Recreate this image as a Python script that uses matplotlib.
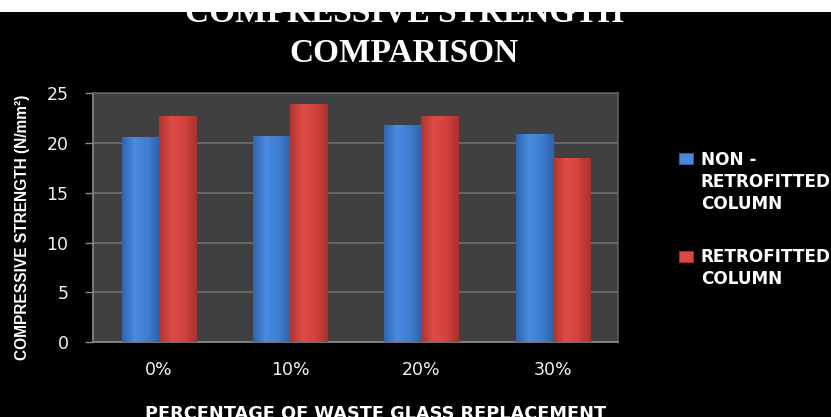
import matplotlib
matplotlib.use("Agg")
import matplotlib.pyplot as plt
from matplotlib import font_manager
from matplotlib.patches import Rectangle
from matplotlib.colors import LinearSegmentedColormap
import numpy as np

categories = ["0%", "10%", "20%", "30%"]
non_retrofitted = [20.6, 20.7, 21.8, 20.95]
retrofitted = [22.75, 23.9, 22.75, 18.45]
series_labels = ["NON -\nRETROFITTED\nCOLUMN", "RETROFITTED\nCOLUMN"]
yticks = [0, 5, 10, 15, 20, 25]
title_lines = ["COMPRESSIVE STRENGTH", "COMPARISON"]
ylabel = "COMPRESSIVE STRENGTH (N/mm\u00b2)"
xlabel = "PERCENTAGE OF WASTE GLASS REPLACEMENT"

W, H = 831, 417
BLUE, BLUE_E = "#3f7fd3", "#2c5d9c"
RED, RED_E = "#d2423e", "#9a2f2b"
blue_cmap = LinearSegmentedColormap.from_list("b", ["#3065b0", "#4a8ae0", "#3f7fd3", "#2f62aa"])
red_cmap = LinearSegmentedColormap.from_list("r", ["#b03430", "#de4b46", "#d2423e", "#a93230"])

def px(x, y):
    return x / W, 1 - y / H

avail = {f.name for f in font_manager.fontManager.ttflist}
narrow = "Liberation Sans Narrow" if "Liberation Sans Narrow" in avail else "Liberation Sans"

fig = plt.figure(figsize=(W / 100, H / 100), dpi=100, facecolor="black")
l, t, r, b = 93.3, 93.3, 618.3, 342
ax = fig.add_axes([l / W, 1 - b / H, (r - l) / W, (b - t) / H])
ax.set_facecolor("#404040")

x = np.arange(len(categories))
bw = 0.282
bars_b = ax.bar(x - bw / 2, non_retrofitted, bw, color=BLUE, edgecolor=BLUE_E, linewidth=0.8, zorder=3)
bars_r = ax.bar(x + bw / 2, retrofitted, bw, color=RED, edgecolor=RED_E, linewidth=0.8, zorder=3)

grad = np.linspace(0, 1, 64).reshape(1, -1)
for bars, cmap in [(bars_b, blue_cmap), (bars_r, red_cmap)]:
    for p in bars:
        x0, y0 = p.get_x(), p.get_y()
        im = ax.imshow(grad, cmap=cmap, aspect="auto", zorder=3.5,
                       extent=(x0, x0 + p.get_width(), y0, y0 + p.get_height()))
        im.set_clip_path(p)

ax.set_xlim(-0.5, len(categories) - 0.5)
ax.set_ylim(0, 25)
ax.set_yticks(yticks)
ax.set_xticks(x)
ax.set_xticklabels(categories)
ax.yaxis.grid(True, color="#6c6c6c", linewidth=1.3, zorder=0)
ax.set_axisbelow(True)
for s in ["top", "right"]:
    ax.spines[s].set_color("#5e5e5e")
    ax.spines[s].set_linewidth(1.2)
for s in ["left", "bottom"]:
    ax.spines[s].set_color("#8a8a8a")
    ax.spines[s].set_linewidth(1.2)
ax.tick_params(axis="y", length=5.8, width=1.0, color="#8a8a8a", pad=12,
               labelcolor="#f0f0f0", labelsize=12.5)
ax.tick_params(axis="x", length=0, pad=14, labelcolor="#f0f0f0", labelsize=12.5)
for lab in ax.get_xticklabels() + ax.get_yticklabels():
    lab.set_family("DejaVu Sans")

# title
fig.text(*px(404, 21), title_lines[0], ha="center", va="baseline", color="white",
         family="Liberation Serif", fontweight="bold", fontsize=24)
fig.text(*px(404, 62.5), title_lines[1], ha="center", va="baseline", color="white",
         family="Liberation Serif", fontweight="bold", fontsize=24)
# white strip at top
fig.add_artist(Rectangle((0, 1 - 12 / H), 1, 12 / H, transform=fig.transFigure,
                         facecolor="white", edgecolor="none", zorder=10))

# axis labels
fig.text(*px(22.5, 227), ylabel, rotation=90, ha="center", va="center", color="white",
         family=[narrow, "DejaVu Sans"], fontweight="bold", fontsize=11.2)
fig.text(*px(376, 419), xlabel, ha="center", va="baseline", color="white",
         family="DejaVu Sans", fontweight="bold", fontsize=12.8)

# legend
entries = [(series_labels[0], blue_cmap(0.4), BLUE_E, 153, 165),
           (series_labels[1], red_cmap(0.4), RED_E, 250.7, 261.7)]
for lab, fc, ec, my, base in entries:
    x0, y0 = px(679, my + 11)
    fig.add_artist(Rectangle((x0, y0), 13.5 / W, 11 / H, transform=fig.transFigure,
                             facecolor=fc, edgecolor=ec, linewidth=0.8))
    for i, line in enumerate(lab.split("\n")):
        fig.text(*px(700.7, base + 22 * i), line, ha="left", va="baseline", color="white",
                 family="DejaVu Sans", fontweight="bold", fontsize=12.2)

fig.savefig("out.png", dpi=100, facecolor="black")
